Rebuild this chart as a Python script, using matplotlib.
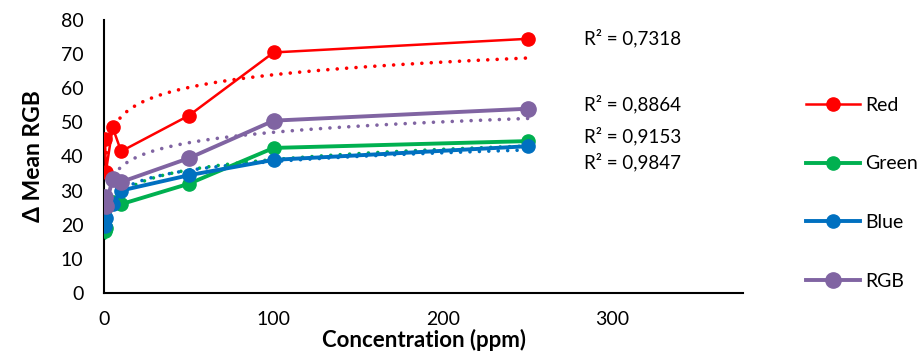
import matplotlib.pyplot as plt
import numpy as np

plt.rcParams['font.family'] = ['Lato', 'DejaVu Sans']

# Concentratie (ppm) en gemeten delta's per kanaal
conc = [0.5, 1, 5, 10, 50, 100, 250]
red = [45, 35.5, 48.5, 41.5, 52, 70.5, 74.5]
green = [18, 19, 26.5, 26, 32, 42.5, 44.5]
blue = [19.5, 22, 26, 30, 34.5, 39, 43]
rgb = [28, 25.5, 33.5, 32.5, 39.5, 50.5, 54]

series = [("Red", red, "#FF0000", 1.8, 9.5),
          ("Green", green, "#00B050", 2.8, 9.5),
          ("Blue", blue, "#0070C0", 2.8, 9.5),
          ("RGB", rgb, "#8064A2", 2.8, 11)]

r2_labels = ["R² = 0,7318", "R² = 0,8864", "R² = 0,9153", "R² = 0,9847"]
r2_y = [74.8, 55.4, 46.0, 38.4]

fig = plt.figure(figsize=(9.22, 3.58), dpi=100)
ax = fig.add_axes([0.113, 0.182, 0.693, 0.762])

x = np.array(conc)
xs = np.linspace(x.min(), x.max(), 400)
for name, vals, col, lw, ms in series:
    ax.plot(conc, vals, color=col, lw=lw, marker='o', ms=ms, label=name, zorder=3)
    # logaritmische trendlijn
    b, a = np.polyfit(np.log(x), np.array(vals), 1)
    ax.plot(xs, a + b * np.log(xs), color=col, lw=2.6, ls=(0, (0.01, 2.6)),
            dash_capstyle='round', zorder=2)

for lab, yy in zip(r2_labels, r2_y):
    ax.text(283, yy, lab, ha='left', va='center', fontsize=13.5)

ax.set_xlim(0, 377)
ax.set_ylim(0, 80)
ax.set_xticks([0, 100, 200, 300])
ax.set_yticks(range(0, 81, 10))
ax.tick_params(length=0, labelsize=14)
ax.tick_params(axis='y', pad=15)
ax.tick_params(axis='x', pad=13)
ax.spines['top'].set_visible(False)
ax.spines['right'].set_visible(False)
ax.spines['left'].set_linewidth(1.5)
ax.spines['bottom'].set_linewidth(1.5)
ax.set_xlabel("Concentration (ppm)", fontsize=16, fontweight='bold', labelpad=1)
ax.set_ylabel("Δ Mean RGB", fontsize=16.5, fontweight='bold', labelpad=12)

fig.legend(loc='upper left', bbox_to_anchor=(0.866, 0.752), frameon=False,
           fontsize=14, handlelength=2.75, labelspacing=2.15, handletextpad=0.3,
           borderaxespad=0)

plt.savefig("out.png", dpi=100)
